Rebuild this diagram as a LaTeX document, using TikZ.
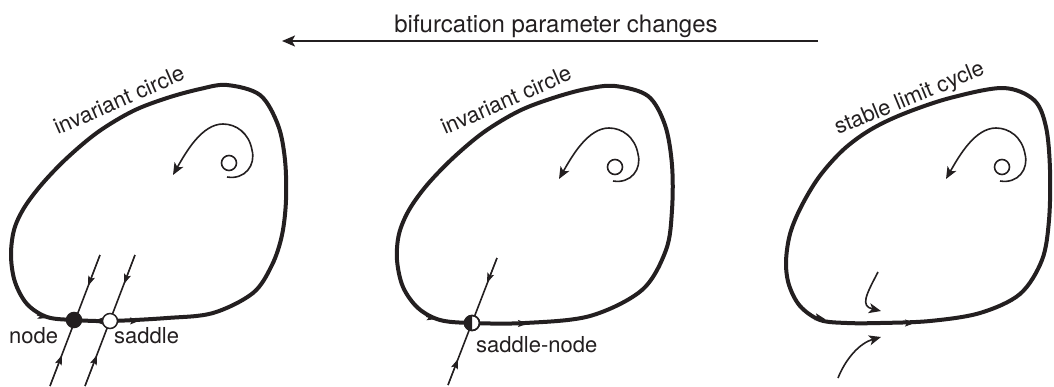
\documentclass[tikz,border=0pt]{standalone}
\usepackage{fontspec}
\setmainfont{TeX Gyre Heros}
\usetikzlibrary{arrows.meta}
\definecolor{ink}{HTML}{231F20}
\newcommand{\lblfont}{\fontsize{22}{26}\selectfont}
\newcommand{\ttlfont}{\fontsize{24}{28}\selectfont}
\begin{document}
\begin{tikzpicture}[x=1pt,y=1pt,
  loopline/.style={draw=ink, line width=4pt, line join=round},
  thinline/.style={draw=ink, line width=1.6pt},
  midtip/.style={draw=ink, fill=ink, line width=1pt, -{Stealth[length=10pt,width=7pt,inset=2pt]}},
  bigtip/.style={thinline, -{Stealth[length=12pt,width=10pt,inset=3pt]}},
  fp/.style={circle, draw=ink, line width=1.5pt, minimum size=15pt, inner sep=0pt},
  lbl/.style={font=\lblfont, text=ink, inner sep=0pt},
  curvelbl/.style={lbl, anchor=base},
  spiralpic/.pic={
    \draw[thinline] (229,-163) circle (7.5);
    \draw[bigtip] (227,-177) .. controls (245,-180) and (256,-165) .. (252,-150)
      .. controls (249,-133) and (236,-124) .. (223,-124)
      .. controls (202,-124) and (186,-152) .. (173,-175);
  }]
\useasboundingbox (0,0) rectangle (1054,-386);

% title and arrow
\node[font=\ttlfont, text=ink, anchor=base, inner sep=0pt] (title) at (556,-32) {bifurcation parameter changes};
\coordinate (ar) at (818,-41);
\coordinate (al) at (282,-41);
\draw[ink, line width=2pt, -{Stealth[length=13pt,width=11pt,inset=3pt]}] (ar) -- (al);

% ---------- loop 1 ----------
\draw[loopline] plot[smooth cycle, tension=0.55] coordinates {(74,-320) (47,-317) (27,-304) (15,-282) (11,-256) (14,-230) (24,-208) (42,-184) (67,-158) (98,-132) (133,-111) (167,-98) (200,-89) (227,-85) (260,-95) (278,-125) (285,-160) (286,-200) (282,-235) (272,-265) (253,-293) (213,-313) (167,-318) (110,-321)};
\node[curvelbl, rotate=23.6] (inv1) at (122,-107) {invariant circle};
\pic at (0,0) {spiralpic};
\coordinate (a1t) at (100,-255); \coordinate (a1b) at (50,-386);
\coordinate (b1t) at (135,-255); \coordinate (b1b) at (85,-386);
\draw[thinline] (a1t) -- (a1b);
\draw[thinline] (b1t) -- (b1b);
\draw[midtip] (a1t) -- (88,-286);
\draw[midtip] (a1b) -- (62,-355);
\draw[midtip] (b1t) -- (124,-284);
\draw[midtip] (b1b) -- (97,-355);
\draw[midtip] (37,-315) -- (48,-318);
\draw[midtip] (128,-321) -- (140,-320.5);
\draw[midtip] (105,-321) -- (93,-321);
\node[fp, fill=ink] (n1) at (74,-320) {};
\node[fp, fill=white] (s1) at (110,-321) {};
\node[lbl, anchor=base west] (lnode) at (9,-343) {node};
\node[lbl, anchor=base west] (lsad) at (114,-343) {saddle};

% ---------- loop 2 ----------
\draw[loopline] plot[smooth cycle, tension=0.55] coordinates {(472,-323) (440,-320) (418,-308) (403,-287) (397,-260) (399,-234) (409,-210) (427,-185) (453,-158) (484,-132) (519,-111) (553,-98) (586,-89) (615,-86) (648,-96) (665,-125) (672,-165) (672,-210) (666,-250) (642,-290) (590,-316) (525,-323)};
\node[curvelbl, rotate=23.6] (inv2) at (509,-107) {invariant circle};
\pic at (386,-4) {spiralpic};
\coordinate (c2t) at (497,-258); \coordinate (c2b) at (448,-385);
\draw[thinline] (c2t) -- (c2b);
\draw[midtip] (c2t) -- (487,-283);
\draw[midtip] (c2b) -- (458,-359);
\draw[midtip] (426,-316.5) -- (437,-319);
\draw[midtip] (517,-323.5) -- (528,-323.5);
\node[fp, fill=white] (sn) at (472,-323) {};
\fill[ink] (sn.center) ++(0,7.5) arc (90:270:7.5) -- cycle;
\draw[ink, line width=1.5pt] (sn.center) circle (7.5);
\node[lbl, anchor=base west] (lsn) at (476,-352) {saddle-node};

% ---------- loop 3 ----------
\draw[loopline] plot[smooth cycle, tension=0.55] coordinates {(880,-323) (847,-323) (820,-320) (800,-306) (789,-285) (786,-262) (790,-234) (801,-207) (819,-177) (843,-150) (870,-130) (903,-114) (950,-98) (1003,-88) (1034,-100) (1046,-127) (1050,-170) (1049,-220) (1042,-260) (1020,-294) (980,-313) (930,-321)};
\node[curvelbl, rotate=22.4] (slc3) at (912,-104.5) {stable limit cycle};
\pic at (773,-4) {spiralpic};
\draw[midtip] (814,-316.5) -- (825,-319);
\draw[midtip] (904,-323) -- (915,-323);
\coordinate (h1) at (878,-272); \coordinate (h2) at (881,-311);
\draw[bigtip] (h1) .. controls (866,-295) and (860,-306) .. (h2);
\coordinate (g1) at (838,-378); \coordinate (g2) at (881,-337);
\draw[bigtip] (g1) .. controls (846,-358) and (860,-343) .. (g2);
\end{tikzpicture}
\end{document}
